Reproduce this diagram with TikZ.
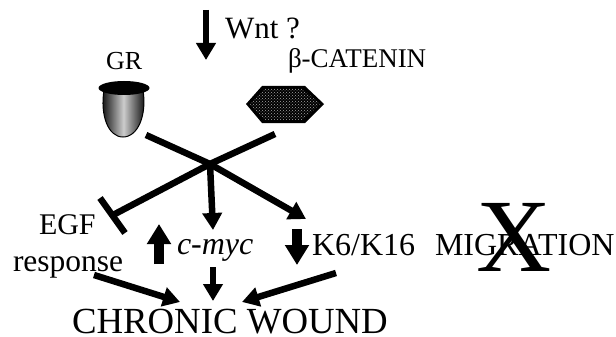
\documentclass[tikz,border=0pt]{standalone}
\usepackage{fontspec}
\setmainfont{Liberation Serif}
\usepackage{xcolor}
\usetikzlibrary{arrows.meta,patterns}
\tikzstyle{lbl}=[inner sep=0pt, outer sep=0pt, anchor=base west, text=black]
\tikzstyle{thin arrow}=[line width=6.5pt, -{Triangle[length=17pt,width=19pt]}]
\tikzstyle{thick arrow}=[line width=10pt, -{Triangle[length=20pt,width=23pt]}]
\tikzstyle{bar}=[line width=6.5pt]
\newcommand{\fs}[1]{\fontsize{#1}{#1}\selectfont}

\begin{document}
\begin{tikzpicture}[x=1pt,y=-1pt]
\useasboundingbox (0,0) rectangle (616,337);
% labels
\node[lbl] (wnt) at (225,39) {\fs{31}Wnt ?};
\node[lbl] (gr) at (106,70) {\fs{26}GR};
\node[lbl] (bcat) at (288,68) {\fs{27}β-CATENIN};
\node[lbl] (egf) at (39,234) {\fs{30}EGF};
\node[lbl] (resp) at (13,271) {\fs{31.5}response};
\node[lbl] (myc) at (177,254) {\fs{32}\itshape c-myc};
\node[lbl] (krt) at (312,255) {\fs{32}K6/K16};
\node[lbl] (migr) at (435,255) {\fs{32}MIGRATION};
\node[lbl] (chron) at (72,333) {\fs{36.8}CHRONIC WOUND};
\node[lbl] (xmark) at (476,271) {\fs{104}X};
% GR receptor
\path[left color=black,right color=black,middle color=black!20,draw=black,line width=1pt]
  (104,90) .. controls (100,115) and (108,137) .. (123,137) .. controls (138,137) and (147,115) .. (143,90) -- cycle;
\fill[black] (124,88) ellipse [x radius=25.5, y radius=7];
% beta-catenin
\path[fill=black] (246,104) -- (262,86) -- (305,86) -- (324,104) -- (305,123) -- (262,123) -- cycle;
\path[pattern=crosshatch dots,pattern color=black!35] (250,104) -- (264,89) -- (303,89) -- (320,104) -- (303,120) -- (264,120) -- cycle;
% ends of connectors
\coordinate (wnt1) at (206,10);
\coordinate (wnt2) at (206,60);
\coordinate (hub) at (210,164);
\coordinate (grend) at (146,135);
\coordinate (catend) at (275,134);
\coordinate (egfend) at (113,215);
\coordinate (bar1) at (100,198);
\coordinate (bar2) at (125,233);
\coordinate (mycend) at (213,230);
\coordinate (krtend) at (306,219);
\coordinate (up1) at (159,264);
\coordinate (up2) at (159,224);
\coordinate (down1) at (297,229);
\coordinate (down2) at (297,265);
\coordinate (myc1) at (213,267);
\coordinate (myc2) at (213,301);
\coordinate (egf1) at (94,275);
\coordinate (egf2) at (180,302);
\coordinate (krt1) at (336,273);
\coordinate (krt2) at (242,302);
\draw[thin arrow] (wnt1) -- (wnt2);
\draw[bar] (grend) -- (hub);
\draw[bar] (catend) -- (hub);
\draw[bar] (hub) -- (egfend);
\draw[bar] (bar1) -- (bar2);
\draw[thin arrow] (hub) -- (mycend);
\draw[thin arrow] (hub) -- (krtend);
\draw[thick arrow] (up1) -- (up2);
\draw[thick arrow] (down1) -- (down2);
\draw[thin arrow] (myc1) -- (myc2);
\draw[thin arrow] (egf1) -- (egf2);
\draw[thin arrow] (krt1) -- (krt2);
\end{tikzpicture}
\end{document}
